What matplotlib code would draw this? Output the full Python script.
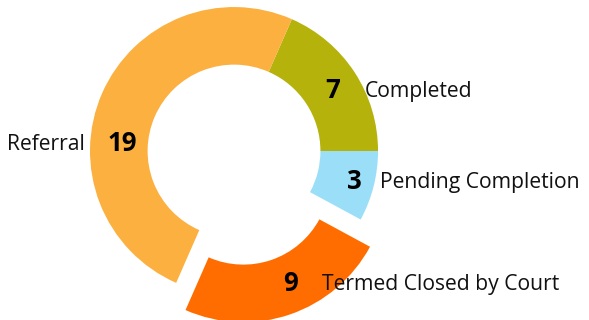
import numpy as np
import matplotlib.pyplot as plt

categories = ["Completed", "Referral", "Termed Closed by Court", "Pending Completion"]
counts = [7, 19, 9, 3]
colors = ["#B5B20C", "#FBB040", "#FF6D00", "#9BDEF8"]
explode = [0, 0, 0.2, 0]

plt.rcParams["font.family"] = ["Open Sans", "DejaVu Sans"]

fig = plt.figure(figsize=(5.89, 3.2), dpi=100)
ax = fig.add_axes([0, 0, 1, 1])

wedges, _ = ax.pie(
    counts,
    colors=colors,
    explode=explode,
    startangle=0,
    counterclock=True,
    radius=1.0,
    wedgeprops=dict(width=0.40, linewidth=0),
)

# ring centre sits left of middle to leave room for the labels on the right
ax.set_xlim(-1.625, 2.465)
ax.set_ylim(-1.174, 1.049)
ax.set_aspect("auto")
ax.axis("off")

for w, name, n in zip(wedges, categories, counts):
    cx, cy = w.center
    mid = np.deg2rad((w.theta1 + w.theta2) / 2)
    r = 0.80
    gap = 32
    if name == "Referral":
        mid = np.deg2rad(176)
        r = 0.78
        gap = 37
    elif name == "Completed":
        mid = np.deg2rad(31.5)
        gap = 33
    elif name == "Pending Completion":
        r = 0.86
        gap = 26
    elif name == "Termed Closed by Court":
        mid = np.deg2rad(-66)
    x = cx + r * np.cos(mid)
    y = cy + r * np.sin(mid)
    ax.text(x, y, str(n), ha="center", va="center", fontsize=18.5,
            fontweight="bold", color="black")
    if np.cos(mid) < 0:
        ax.annotate(name, (x, y), xytext=(-gap, -1), textcoords="offset pixels",
                    ha="right", va="center", fontsize=15.2, color="#111111")
    else:
        ax.annotate(name, (x, y), xytext=(gap, -1), textcoords="offset pixels",
                    ha="left", va="center", fontsize=15.2, color="#111111")

fig.savefig("out.png", dpi=100)
